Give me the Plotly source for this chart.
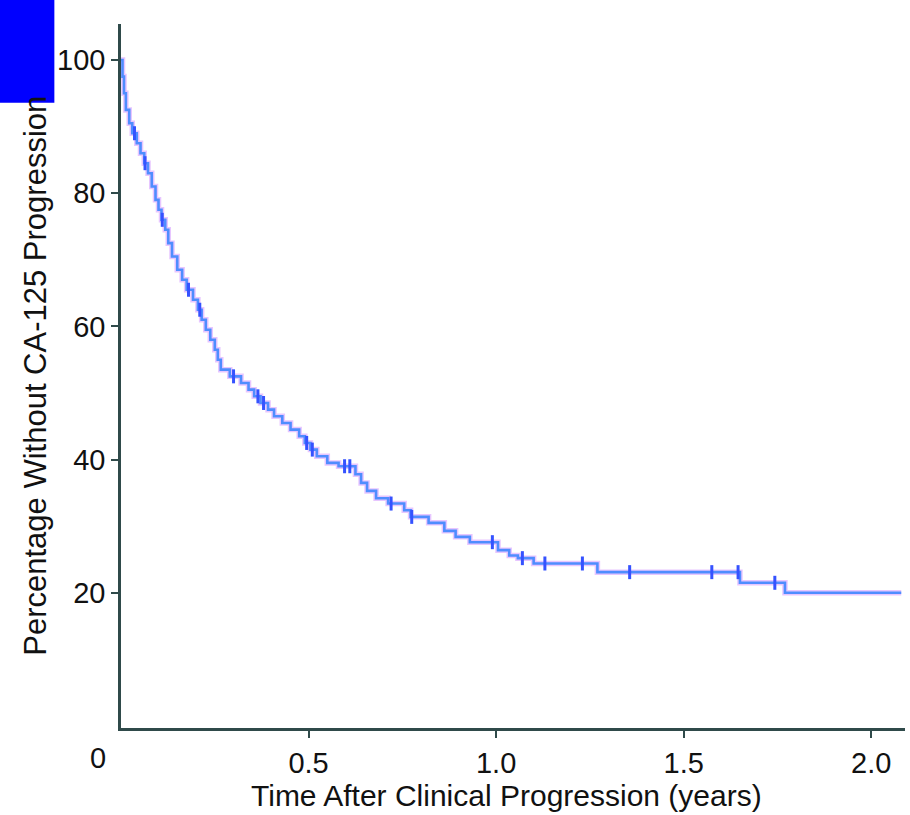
import numpy as np
import plotly.graph_objects as go

# Kaplan-Meier estimate: event times (years) and percentage without CA-125 progression
time_yr = [0.0, 0.004, 0.008, 0.013, 0.022, 0.030, 0.042, 0.052, 0.062, 0.072,
           0.082, 0.092, 0.100, 0.108, 0.118, 0.126, 0.136, 0.150, 0.163, 0.175,
           0.192, 0.205, 0.215, 0.226, 0.238, 0.250, 0.258, 0.266, 0.290, 0.320,
           0.340, 0.355, 0.372, 0.392, 0.408, 0.430, 0.452, 0.475, 0.490, 0.505,
           0.522, 0.550, 0.580, 0.625, 0.640, 0.656, 0.680, 0.712, 0.755, 0.772,
           0.820, 0.862, 0.892, 0.930, 1.005, 1.035, 1.058, 1.100, 1.270, 1.650,
           1.770]
surv_pct = [100, 97.5, 95.0, 92.5, 90.5, 89.0, 87.5, 86.0, 84.5, 83.0,
            81.0, 79.0, 77.5, 76.0, 74.5, 72.5, 70.5, 68.5, 67.0, 65.5,
            64.0, 62.5, 61.0, 59.5, 58.0, 56.5, 55.0, 53.5, 52.5, 51.5,
            50.5, 49.5, 48.5, 47.5, 46.5, 45.5, 44.5, 43.5, 42.5, 41.5,
            40.5, 39.5, 39.0, 37.8, 36.5, 35.3, 34.2, 33.4, 32.4, 31.4,
            30.5, 29.3, 28.4, 27.6, 26.4, 25.6, 25.2, 24.4, 23.1, 21.5,
            20.0]
last_followup = 2.08

# Censored observations (years)
censor_yr = [0.036, 0.064, 0.110, 0.180, 0.210, 0.300, 0.365, 0.380, 0.495, 0.510,
             0.596, 0.610, 0.720, 0.775, 0.990, 1.070, 1.130, 1.230, 1.356, 1.575,
             1.645, 1.743]

x_ticks = [0.5, 1.0, 1.5, 2.0]
x_ticklabels = ["0.5", "1.0", "1.5", "2.0"]
y_ticks = [20, 40, 60, 80, 100]

# step curve extended to last follow-up
xs = list(time_yr) + [last_followup]
ys = list(surv_pct) + [surv_pct[-1]]

# survival level at each censoring time
t_arr = np.array(time_yr)
s_arr = np.array(surv_pct)
idx = np.searchsorted(t_arr, np.array(censor_yr), side="right") - 1
censor_pct = s_arr[idx].tolist()

FONT = "Liberation Sans, Arial, Helvetica, sans-serif"
AX = "#2f4a4a"
TXT = "#111111"

fig = go.Figure()
# soft violet halo under the curve
fig.add_trace(go.Scatter(x=xs, y=ys, mode="lines", line_shape="hv",
                         line=dict(color="rgba(215,160,255,0.6)", width=5.5),
                         hoverinfo="skip", showlegend=False))
fig.add_trace(go.Scatter(x=xs, y=ys, mode="lines", line_shape="hv",
                         line=dict(color="#4f8dff", width=2.6),
                         showlegend=False))
fig.add_trace(go.Scatter(x=censor_yr, y=censor_pct, mode="markers",
                         marker=dict(symbol="line-ns", size=10,
                                     line=dict(color="#3552ff", width=3)),
                         showlegend=False))

fig.update_layout(
    width=910, height=815,
    margin=dict(l=121, r=5, t=24, b=87),
    paper_bgcolor="white", plot_bgcolor="white",
    font=dict(family=FONT, size=29, color=TXT),
    xaxis=dict(range=[0, 2.09], tickvals=x_ticks, ticktext=x_ticklabels,
               showline=True, linecolor=AX, linewidth=2.5,
               ticks="outside", ticklen=7, tickwidth=2, tickcolor=AX,
               showgrid=False, zeroline=False,
               tickfont=dict(family=FONT, size=29, color=TXT)),
    yaxis=dict(range=[-0.3, 105.4], tickvals=y_ticks,
               showline=True, linecolor=AX, linewidth=2.5,
               ticks="outside", ticklen=7, tickwidth=2, tickcolor=AX,
               showgrid=False, zeroline=False,
               tickfont=dict(family=FONT, size=29, color=TXT)),
    shapes=[dict(type="rect", xref="paper", yref="paper",
                 x0=-0.155, x1=-0.085, y0=0.888, y1=1.035,
                 fillcolor="#0000ff", line=dict(width=0), layer="above")],
    annotations=[
        dict(text="0", xref="paper", yref="paper", x=-0.029, y=-0.043,
             xanchor="center", yanchor="middle", showarrow=False,
             font=dict(family=FONT, size=29, color=TXT)),
        dict(text="Time After Clinical Progression (years)", xref="paper", yref="paper",
             x=0.492, y=-0.096, xanchor="center", yanchor="middle", showarrow=False,
             font=dict(family=FONT, size=30, color=TXT)),
        dict(text="Percentage Without CA-125 Progression", xref="paper", yref="paper",
             x=-0.110, y=0.500, xanchor="center", yanchor="middle", textangle=-90,
             showarrow=False, font=dict(family=FONT, size=31, color=TXT)),
    ],
)

fig.write_html("out.html")
